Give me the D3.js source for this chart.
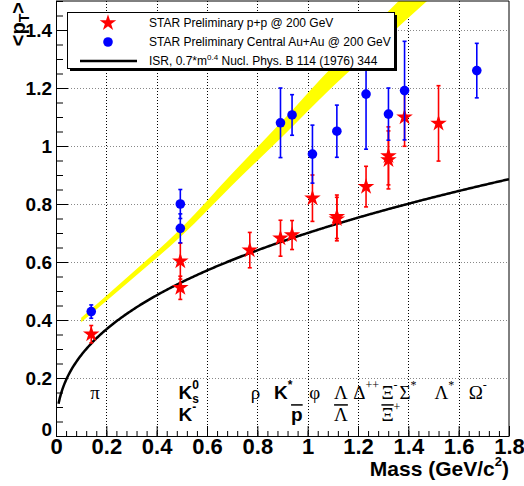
<!DOCTYPE html>
<html>
<head>
<meta charset="utf-8">
<script src="https://cdn.jsdelivr.net/npm/d3@7"></script>
<style>
  body { margin: 0; background: #fff; }
  svg { display: block; }
</style>
</head>
<body>
<svg id="chart" width="524" height="486"></svg>
<script>
const xTicks = [0, 0.2, 0.4, 0.6, 0.8, 1, 1.2, 1.4, 1.6, 1.8];
const yTicks = [0, 0.2, 0.4, 0.6, 0.8, 1, 1.2, 1.4];

// STAR p+p @ 200 GeV
const ppMass = [0.140, 0.494, 0.494, 0.770, 0.892, 0.938, 1.019, 1.116, 1.116, 1.232, 1.321, 1.321, 1.385, 1.520];
const ppMean = [0.351, 0.511, 0.603, 0.641, 0.682, 0.693, 0.820, 0.748, 0.756, 0.860, 0.952, 0.966, 1.099, 1.078];
const ppErr  = [0.030, 0.040, 0.062, 0.061, 0.062, 0.050, 0.080, 0.075, 0.075, 0.070, 0.100, 0.100, 0.100, 0.130];

// STAR central Au+Au @ 200 GeV
const auMass = [0.140, 0.494, 0.494, 0.892, 0.938, 1.019, 1.116, 1.232, 1.321, 1.385, 1.672];
const auMean = [0.429, 0.716, 0.800, 1.080, 1.107, 0.972, 1.051, 1.179, 1.110, 1.191, 1.260];
const auErr  = [0.023, 0.050, 0.050, 0.120, 0.070, 0.100, 0.090, 0.190, 0.090, 0.170, 0.094];

// yellow band
const bandMass = [0.1, 0.3, 0.5, 0.7, 0.9, 1.1, 1.3, 1.5];
const bandLow  = [0.392, 0.540, 0.691, 0.865, 1.033, 1.205, 1.363, 1.520];
const bandHigh = [0.408, 0.560, 0.719, 0.905, 1.087, 1.275, 1.447, 1.620];

// ISR parametrisation 0.7*m^0.4
const isrCoef = 0.7;
const isrPow = 0.4;

const legendLabels = [
    "STAR Preliminary p+p @ 200 GeV",
    "STAR Preliminary Central Au+Au @ 200 GeV",
    "ISR, 0.7*m"
];

const particles = [
    { m: 0.136, row: 0, base: "π", greek: true },
    { m: 0.487, row: 0, base: "K", sup: "0", sub: "s" },
    { m: 0.487, row: 1, base: "K", sup: "-" },
    { m: 0.774, row: 0, base: "ρ", greek: true },
    { m: 0.866, row: 0, base: "K", sup: "*" },
    { m: 0.934, row: 1, base: "p", bar: true },
    { m: 1.006, row: 0, base: "φ", greek: true },
    { m: 1.105, row: 0, base: "Λ", greek: true },
    { m: 1.105, row: 1, base: "Λ", greek: true, bar: true },
    { m: 1.181, row: 0, base: "Δ", greek: true, sup: "++" },
    { m: 1.293, row: 0, base: "Ξ", greek: true, sup: "-" },
    { m: 1.293, row: 1, base: "Ξ", greek: true, sup: "+", bar: true },
    { m: 1.365, row: 0, base: "Σ", greek: true, sup: "*" },
    { m: 1.504, row: 0, base: "Λ", greek: true, sup: "*" },
    { m: 1.640, row: 0, base: "Ω", greek: true, sup: "-" }
];

const svg = d3.select("#chart");
const sans = "'Liberation Sans', Arial, Helvetica, sans-serif";
const serif = "'Liberation Serif', 'Times New Roman', serif";

const x = d3.scaleLinear().domain([0, 1.8]).range([56, 509]);
const y = d3.scaleLinear().domain([0, 1.5]).range([436, 1]);

svg.append("rect").attr("width", 524).attr("height", 486).attr("fill", "#fff");

svg.append("clipPath").attr("id", "plot-clip")
    .append("rect")
    .attr("x", x(0)).attr("y", y(1.5))
    .attr("width", x(1.8) - x(0)).attr("height", y(0) - y(1.5));

// grid
svg.append("g").selectAll("line")
    .data(xTicks.slice(1, -1))
    .join("line")
    .attr("x1", d => Math.round(x(d)) + 0.5)
    .attr("x2", d => Math.round(x(d)) + 0.5)
    .attr("y1", y(1.5)).attr("y2", y(0))
    .attr("stroke", "#000")
    .attr("stroke-dasharray", "1,2");

svg.append("g").selectAll("line")
    .data(yTicks.slice(1))
    .join("line")
    .attr("x1", x(0)).attr("x2", x(1.8))
    .attr("y1", d => Math.round(y(d)) + 0.5)
    .attr("y2", d => Math.round(y(d)) + 0.5)
    .attr("stroke", "#888")
    .attr("stroke-dasharray", "1,2");

const plot = svg.append("g").attr("clip-path", "url(#plot-clip)");

// band
const bandData = bandMass.map((m, i) => ({ m, lo: bandLow[i], hi: bandHigh[i] }));
plot.append("path")
    .datum(bandData)
    .attr("fill", "#ffff00")
    .attr("d", d3.area()
        .x(d => x(d.m))
        .y0(d => y(d.lo))
        .y1(d => y(d.hi))
        .curve(d3.curveMonotoneX));

// ISR curve
const isrData = d3.range(0.01, 1.8001, 0.005).map(m => ({ m, v: isrCoef * Math.pow(m, isrPow) }));
plot.append("path")
    .datum(isrData)
    .attr("fill", "none")
    .attr("stroke", "#000")
    .attr("stroke-width", 2.5)
    .attr("d", d3.line().x(d => x(d.m)).y(d => y(d.v)));

function drawSeries(mass, mean, err, color, marker) {
    const data = mass.map((m, i) => ({ m, v: mean[i], e: err[i] }));
    const g = plot.append("g");
    const bars = g.selectAll(".err").data(data).join("g")
        .attr("stroke", color).attr("stroke-width", 1.6);
    bars.append("line")
        .attr("x1", d => x(d.m)).attr("x2", d => x(d.m))
        .attr("y1", d => y(d.v - d.e)).attr("y2", d => y(d.v + d.e));
    bars.append("line")
        .attr("x1", d => x(d.m) - 2).attr("x2", d => x(d.m) + 2)
        .attr("y1", d => y(d.v - d.e)).attr("y2", d => y(d.v - d.e));
    bars.append("line")
        .attr("x1", d => x(d.m) - 2).attr("x2", d => x(d.m) + 2)
        .attr("y1", d => y(d.v + d.e)).attr("y2", d => y(d.v + d.e));
    g.selectAll(".mk").data(data).join("path")
        .attr("transform", d => `translate(${x(d.m)},${y(d.v)})`)
        .attr("d", marker)
        .attr("fill", color);
}

const starPath = d3.symbol(d3.symbolStar, 85)();
const dotPath = d3.symbol(d3.symbolCircle, Math.PI * 4.8 * 4.8)();

drawSeries(ppMass, ppMean, ppErr, "#ff0000", starPath);
drawSeries(auMass, auMean, auErr, "#0000ff", dotPath);

// axes
const yMinor = d3.range(0, 1.5001, 0.05);
const xMinor = d3.range(0, 1.8001, 0.04);

const yMinorAxis = svg.append("g").attr("transform", `translate(${x(0)},0)`)
    .call(d3.axisLeft(y).tickValues(yMinor).tickSizeInner(-7).tickSizeOuter(0).tickFormat(""));
yMinorAxis.select(".domain").remove();

const yAxis = svg.append("g").attr("transform", `translate(${x(0)},0)`)
    .call(d3.axisLeft(y).tickValues(yTicks).tickSizeInner(-12).tickSizeOuter(0)
        .tickPadding(4).tickFormat(d3.format("~g")));
yAxis.selectAll("text")
    .attr("font-family", sans).attr("font-weight", "bold").attr("font-size", 19)
    .attr("fill", "#000");
yAxis.selectAll(".tick").filter(d => d === 0).select("text").attr("dy", "-0.05em");

const xMinorAxis = svg.append("g").attr("transform", `translate(0,${y(0)})`)
    .call(d3.axisBottom(x).tickValues(xMinor).tickSizeInner(-5).tickSizeOuter(0).tickFormat(""));
xMinorAxis.select(".domain").remove();

const xAxis = svg.append("g").attr("transform", `translate(0,${y(0)})`)
    .call(d3.axisBottom(x).tickValues(xTicks).tickSizeInner(-10).tickSizeOuter(0)
        .tickPadding(2).tickFormat(d3.format("~g")));
xAxis.selectAll("text")
    .attr("font-family", sans).attr("font-weight", "bold").attr("font-size", 22)
    .attr("fill", "#000");

svg.selectAll(".domain").attr("stroke", "#000");
svg.selectAll(".tick line").attr("stroke", "#000");

// frame right/top
svg.append("line")
    .attr("x1", x(1.8)).attr("x2", x(1.8)).attr("y1", y(1.5)).attr("y2", y(0))
    .attr("stroke", "#000");
svg.append("line")
    .attr("x1", x(0)).attr("x2", x(1.8)).attr("y1", y(1.5)).attr("y2", y(1.5))
    .attr("stroke", "#000");

// axis titles
const xTitle = svg.append("text")
    .attr("x", x(1.8)).attr("y", 476)
    .attr("text-anchor", "end")
    .attr("font-family", sans).attr("font-weight", "bold").attr("font-size", 21);
xTitle.append("tspan").text("Mass (GeV/c");
xTitle.append("tspan").attr("font-size", 13).attr("dy", -10).text("2");
xTitle.append("tspan").attr("dy", 10).text(")");

const yTitle = svg.append("text")
    .attr("transform", "translate(25,2) rotate(-90)")
    .attr("text-anchor", "end")
    .attr("font-family", sans).attr("font-weight", "bold").attr("font-size", 20);
yTitle.append("tspan").text("<p");
yTitle.append("tspan").attr("font-size", 14).attr("dy", 4).text("T");
yTitle.append("tspan").attr("dy", -4).text(">");

// particle labels
const rowValue = [0.128, 0.052];
const lab = svg.append("g");
particles.forEach(p => {
    const fam = p.greek ? serif : sans;
    const weight = p.greek ? "normal" : "bold";
    const px = x(p.m);
    const py = y(rowValue[p.row]);
    const t = lab.append("text")
        .attr("x", px).attr("y", py)
        .attr("font-family", fam).attr("font-weight", weight).attr("font-size", 19)
        .text(p.base);
    const w = t.node().getComputedTextLength();
    if (p.bar) {
        lab.append("line")
            .attr("x1", px).attr("x2", px + w)
            .attr("y1", py - 16).attr("y2", py - 16)
            .attr("stroke", "#000").attr("stroke-width", 1.5);
    }
    if (p.sup) {
        lab.append("text")
            .attr("x", px + w).attr("y", py - 10)
            .attr("font-family", fam).attr("font-weight", weight).attr("font-size", 12)
            .text(p.sup);
    }
    if (p.sub) {
        lab.append("text")
            .attr("x", px + w).attr("y", py + 4)
            .attr("font-family", fam).attr("font-weight", weight).attr("font-size", 12)
            .text(p.sub);
    }
});

// legend
const leg = svg.append("g");
leg.append("rect").attr("x", 70).attr("y", 15).attr("width", 327).attr("height", 56).attr("fill", "#000");
leg.append("rect").attr("x", 67.5).attr("y", 12.5).attr("width", 327).attr("height", 56)
    .attr("fill", "#fff").attr("stroke", "#000");

const legRows = [23, 42, 61];
leg.append("path").attr("transform", `translate(108,${legRows[0]})`).attr("d", starPath).attr("fill", "#ff0000");
leg.append("path").attr("transform", `translate(108,${legRows[1]})`).attr("d", dotPath).attr("fill", "#0000ff");
leg.append("line").attr("x1", 80).attr("x2", 137).attr("y1", legRows[2]).attr("y2", legRows[2])
    .attr("stroke", "#000").attr("stroke-width", 2.5);

legendLabels.forEach((s, i) => {
    const t = leg.append("text")
        .attr("x", 149).attr("y", legRows[i] + 4)
        .attr("font-family", sans).attr("font-size", 12)
        .text(s);
    if (i === 2) {
        t.append("tspan").attr("font-size", 8).attr("dy", -5).text("0.4");
        t.append("tspan").attr("dy", 5).text(" Nucl. Phys. B 114 (1976) 344");
    }
});
</script>
</body>
</html>
